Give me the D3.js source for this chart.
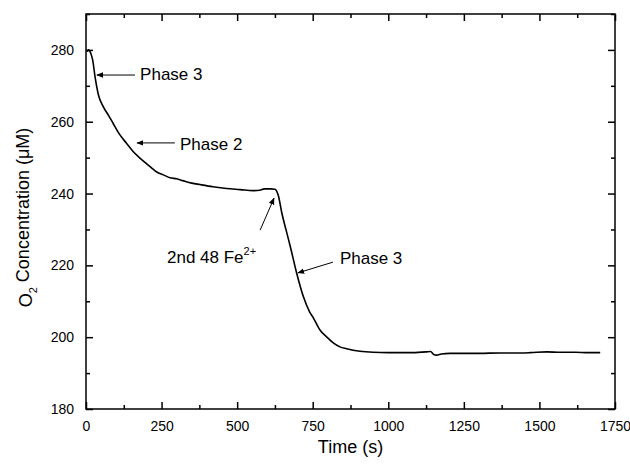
<!DOCTYPE html>
<html lang="en">
<head>
  <meta charset="UTF-8" />
  <title>O2 Concentration vs Time</title>
  <script src="https://cdn.jsdelivr.net/npm/d3@7/dist/d3.min.js"></script>
  <style>
    html, body { margin: 0; padding: 0; background: #fff; }
    body { font-family: "Liberation Sans", Arial, sans-serif; }
    #viz { width: 630px; height: 466px; }
  </style>
</head>
<body>
  <div id="viz"></div>

  <script>
  // Trace: time (s) and O2 concentration (uM)
  const time = [4, 8, 16, 22, 30, 41, 57, 75, 90, 110, 134, 155, 173, 195, 215, 234, 256, 278, 300, 320,
                350, 377, 420, 465, 510, 553, 575, 590, 610, 625, 636, 648, 662, 676, 697, 719, 740, 752,
                774, 796, 818, 840, 862, 906, 950, 1000, 1038, 1080, 1126, 1140, 1150, 1160, 1175, 1204,
                1250, 1300, 1370, 1420, 1470, 1524, 1570, 1620, 1660, 1701];
  const o2   = [279.5, 280, 279, 277.2, 272.5, 267.5, 264.2, 261.7, 259.5, 256.6, 254, 251.8, 250.3, 248.7, 247.3, 246, 245.2, 244.4, 244.1, 243.6,
                242.9, 242.5, 241.9, 241.4, 241.1, 240.8, 240.9, 241.3, 241.3, 241.2, 239.5, 234.5, 229.8, 225.2, 217.8, 211.3, 207, 205.4,
                202, 200.1, 198.4, 197.3, 196.8, 196.1, 195.8, 195.7, 195.7, 195.7, 195.9, 196.0, 195.2, 195.0, 195.3, 195.5,
                195.5, 195.5, 195.6, 195.6, 195.7, 195.9, 195.8, 195.8, 195.7, 195.7];

  const xTicks = [0, 250, 500, 750, 1000, 1250, 1500, 1750];
  const yTicks = [180, 200, 220, 240, 260, 280];

  // annotations: text anchor and arrow (from -> to) in data units
  const notes = [
    { text: 'Phase 3', tx: 179, ty: 273.3, ax1: 162, ay1: 273, ax2: 36, ay2: 273 },
    { text: 'Phase 2', tx: 311, ty: 253.8, ax1: 294, ay1: 254.1, ax2: 169, ay2: 254.1 },
    { text: '2nd 48 Fe', sup: '2+', tx: 268, ty: 222.3, ax1: 576, ay1: 229.8, ax2: 622, ay2: 238.7 },
    { text: 'Phase 3', tx: 840, ty: 222, ax1: 817, ay1: 220.9, ax2: 701, ay2: 217.9 }
  ];

  function drawViz() {
    const container = document.getElementById('viz');
    container.innerHTML = '';

    const margin = { top: 14, right: 15, bottom: 57, left: 86 };
    const W = 630, H = 466;
    const width  = W - margin.left - margin.right;
    const height = H - margin.top - margin.bottom;

    const svgRoot = d3.select(container).append('svg')
      .attr('width', W).attr('height', H);

    const defs = svgRoot.append('defs');
    defs.append('marker')
      .attr('id', 'arrow')
      .attr('viewBox', '0 0 10 10')
      .attr('refX', 9).attr('refY', 5)
      .attr('markerWidth', 7).attr('markerHeight', 7)
      .attr('markerUnits', 'userSpaceOnUse')
      .attr('orient', 'auto')
      .append('path')
        .attr('d', 'M0,1 L10,5 L0,9 Z')
        .attr('fill', '#000');

    const svg = svgRoot.append('g')
      .attr('transform', `translate(${margin.left},${margin.top})`);

    const x = d3.scaleLinear().domain([0, 1750]).range([0, width]);
    const y = d3.scaleLinear().domain([180, 290]).range([height, 0]);
    const fmt = d3.format('d');

    const minorX = d3.range(0, 1751, 125).filter(v => !xTicks.includes(v));
    const minorY = d3.range(180, 291, 10).filter(v => !yTicks.includes(v));

    // bottom / left axes with labels, ticks pointing inward
    svg.append('g')
      .attr('transform', `translate(0,${height})`)
      .call(d3.axisBottom(x).tickValues(xTicks).tickFormat(fmt).tickSizeInner(-7).tickSizeOuter(0).tickPadding(12));
    svg.append('g').attr('transform', `translate(0,${height})`)
      .call(d3.axisBottom(x).tickValues(minorX).tickSizeInner(-4).tickSizeOuter(0).tickFormat(''));

    svg.append('g')
      .call(d3.axisLeft(y).tickValues(yTicks).tickFormat(fmt).tickSizeInner(-7).tickSizeOuter(0).tickPadding(12));
    svg.append('g')
      .call(d3.axisLeft(y).tickValues(minorY).tickSizeInner(-4).tickSizeOuter(0).tickFormat(''));

    // mirrored top / right ticks
    svg.append('g')
      .call(d3.axisTop(x).tickValues(xTicks).tickSizeInner(-7).tickSizeOuter(0).tickFormat(''));
    svg.append('g')
      .call(d3.axisTop(x).tickValues(minorX).tickSizeInner(-4).tickSizeOuter(0).tickFormat(''));
    svg.append('g').attr('transform', `translate(${width},0)`)
      .call(d3.axisRight(y).tickValues(yTicks).tickSizeInner(-7).tickSizeOuter(0).tickFormat(''));
    svg.append('g').attr('transform', `translate(${width},0)`)
      .call(d3.axisRight(y).tickValues(minorY).tickSizeInner(-4).tickSizeOuter(0).tickFormat(''));

    svg.selectAll('.domain').remove();
    svg.selectAll('.tick line').attr('stroke', '#000').attr('stroke-width', 1.5);
    svg.selectAll('.tick text')
      .attr('fill', '#000')
      .style('font-family', '"Liberation Sans", Arial, sans-serif')
      .style('font-size', '14px');

    // frame
    svg.append('rect')
      .attr('x', 0).attr('y', 0)
      .attr('width', width).attr('height', height)
      .attr('fill', 'none')
      .attr('stroke', '#000')
      .attr('stroke-width', 1.5);

    // trace
    const rows = time.map((t, i) => ({ t: t, v: o2[i] }));
    const line = d3.line()
      .x(d => x(d.t))
      .y(d => y(d.v))
      .curve(d3.curveMonotoneX);
    svg.append('path')
      .datum(rows)
      .attr('fill', 'none')
      .attr('stroke', '#000')
      .attr('stroke-width', 1.6)
      .attr('d', line);

    // annotations
    notes.forEach(n => {
      svg.append('line')
        .attr('x1', x(n.ax1)).attr('y1', y(n.ay1))
        .attr('x2', x(n.ax2)).attr('y2', y(n.ay2))
        .attr('stroke', '#000')
        .attr('stroke-width', 1)
        .attr('marker-end', 'url(#arrow)');
      const t = svg.append('text')
        .attr('x', x(n.tx)).attr('y', y(n.ty))
        .attr('dy', '0.35em')
        .style('font-size', '17px')
        .attr('fill', '#000')
        .text(n.text);
      if (n.sup) {
        t.append('tspan')
          .attr('dy', '-0.7em')
          .style('font-size', '11px')
          .text(n.sup);
      }
    });

    // axis titles
    svgRoot.append('text')
      .attr('x', margin.left + width / 2)
      .attr('y', 453)
      .attr('text-anchor', 'middle')
      .style('font-size', '18px')
      .text('Time (s)');

    const yl = svgRoot.append('text')
      .attr('transform', `translate(32,${margin.top + height / 2 + 6}) rotate(-90)`)
      .attr('text-anchor', 'middle')
      .style('font-size', '18px');
    yl.append('tspan').text('O');
    yl.append('tspan').attr('dy', '0.45em').style('font-size', '11px').text('2');
    yl.append('tspan').attr('dy', '-0.45em').text(' Concentration (\u03BCM)');
  }

  document.addEventListener('DOMContentLoaded', drawViz);
  </script>
</body>
</html>
